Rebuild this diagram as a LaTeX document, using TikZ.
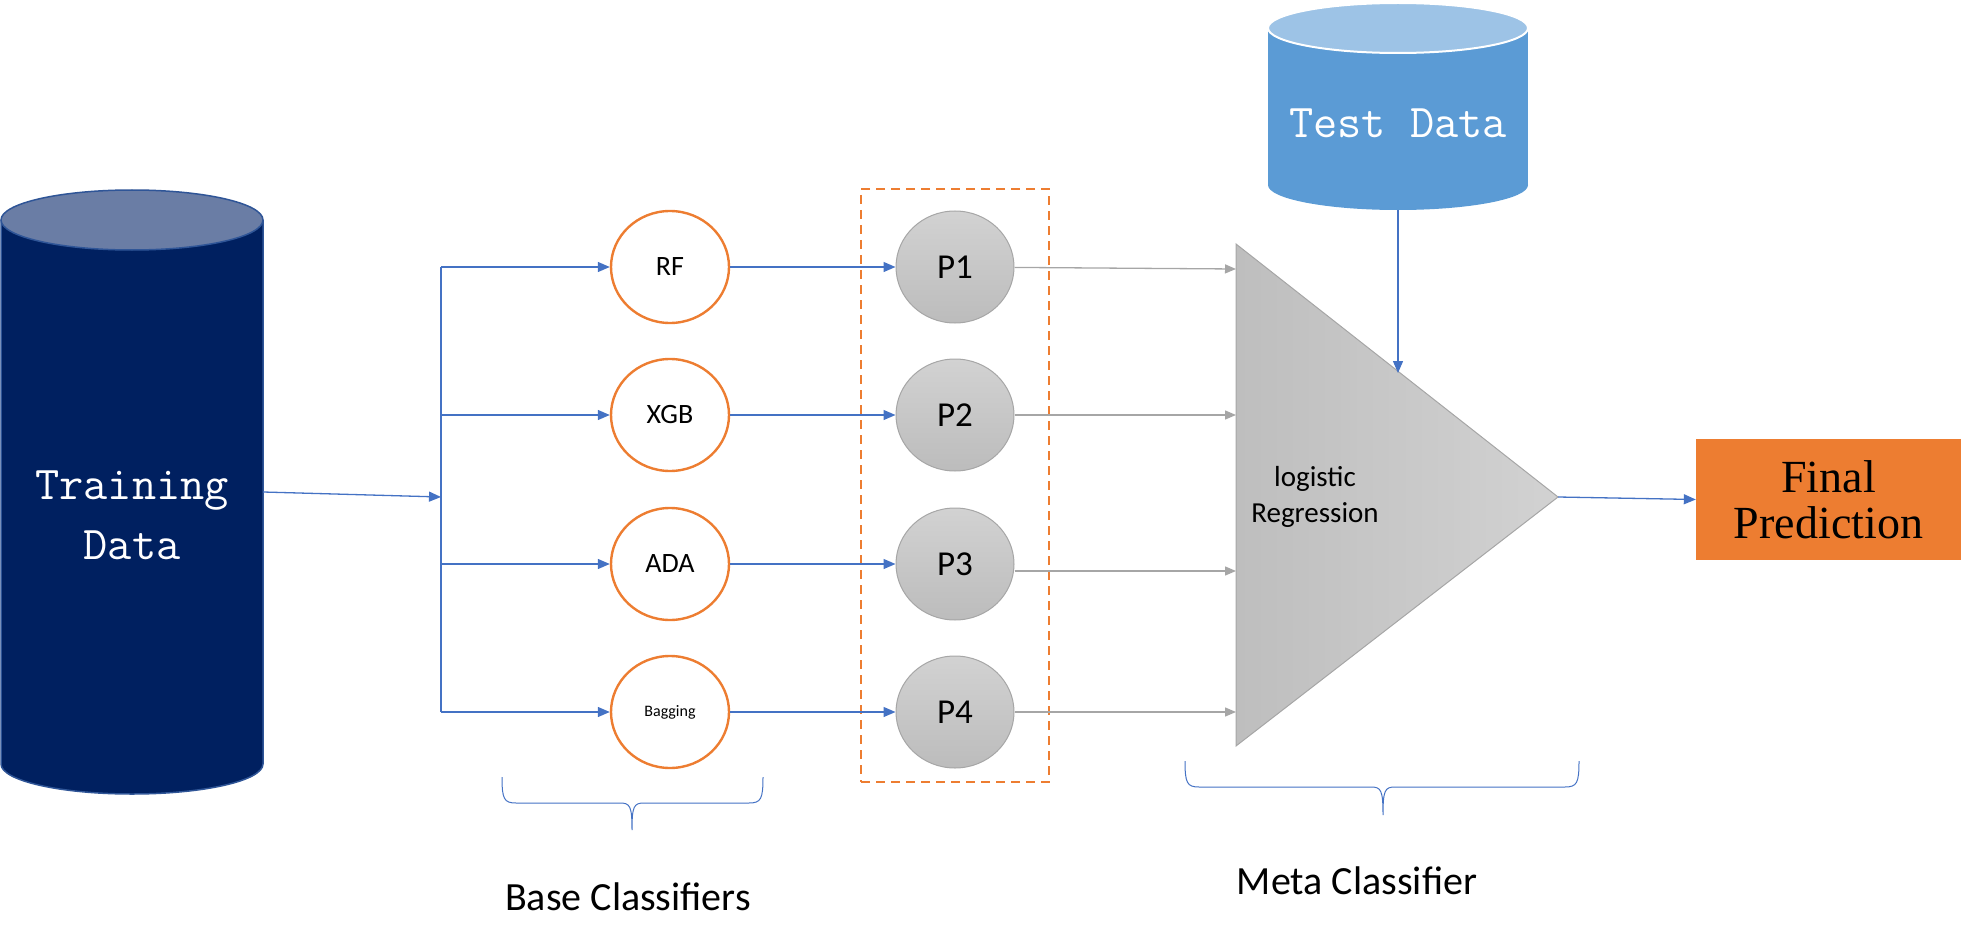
\documentclass[tikz,border=0pt]{standalone}
\usepackage{fontspec}
\setmainfont{Carlito}
\newfontfamily\finalfont{Liberation Serif}
\usetikzlibrary{arrows.meta,shapes.geometric}
\definecolor{navy}{HTML}{002060}
\definecolor{navytop}{HTML}{6A7DA5}
\definecolor{navyline}{HTML}{2F5597}
\definecolor{testblue}{HTML}{5B9BD5}
\definecolor{testtop}{HTML}{9DC3E6}
\definecolor{lineblue}{HTML}{4472C4}
\definecolor{orng}{HTML}{ED7D31}
\definecolor{linegray}{HTML}{A6A6A6}
\definecolor{pTop}{HTML}{D2D2D2}
\definecolor{pBot}{HTML}{BCBCBC}
\definecolor{pgray}{HTML}{A6A6A6}
\definecolor{triL}{HTML}{BEBEBE}
\definecolor{triR}{HTML}{D2D2D2}
\begin{document}
\begin{tikzpicture}[x=1pt,y=-1pt,
  blu/.style={draw=lineblue, line width=1.3pt},
  barrow/.style={blu, -{Triangle[length=12pt,width=10pt]}},
  garrow/.style={draw=linegray, line width=1.3pt, -{Triangle[length=11pt,width=9pt]}},
  clf/.style={ellipse, draw=orng, line width=2.4pt, fill=white, minimum width=118pt, minimum height=112pt, inner sep=0pt, font=\fontsize{28}{30}\selectfont},
  pnode/.style={ellipse, draw=pgray, line width=1pt, top color=pTop, bottom color=pBot, minimum width=118pt, minimum height=112pt, inner sep=0pt, font=\fontsize{35}{40}\selectfont},
  brace/.style={draw=lineblue, line width=1pt},
  lbl/.style={anchor=base, font=\fontsize{40}{40}\selectfont}
]
\useasboundingbox (0,0) rectangle (1965,952);

% Training data cylinder
\fill[navy] (1,220) rectangle (263,764);
\fill[navy] (132,764) ellipse[x radius=131pt, y radius=30pt];
\draw[navyline, line width=1.5pt] (1,220) -- (1,764) arc[start angle=180, end angle=360, x radius=131pt, y radius=30pt] -- (263,220);
\filldraw[fill=navytop, draw=navyline, line width=1.5pt] (132,220) ellipse[x radius=131pt, y radius=30pt];
\node[minimum width=262pt, minimum height=604pt, inner sep=0pt] (train) at (132,492) {};
\node[text=white, font=\ttfamily\fontsize{47}{60}\selectfont, align=center] (traintxt) at (132,515) {Training\\Data};

% Test data cylinder
\fill[testblue] (1268,28) rectangle (1528,185);
\fill[testblue] (1398,185) ellipse[x radius=130pt, y radius=25pt];
\filldraw[fill=testtop, draw=white, line width=2pt] (1398,28) ellipse[x radius=130pt, y radius=25pt];
\node[minimum width=260pt, minimum height=207pt, inner sep=0pt] (test) at (1398,106.5) {};
\node[text=white, font=\ttfamily\fontsize{47}{60}\selectfont] (testtxt) at (1398,123) {Test Data};

% bus
\coordinate (busin) at (441,497);
\coordinate (bust) at (441,267);
\coordinate (busb) at (441,712);
\draw[barrow] (train.east) -- (busin);
\draw[blu] (bust) -- (busb);

% base classifiers
\node[clf] (rf) at (670,267) {RF};
\node[clf] (xgb) at (670,415) {XGB};
\node[clf] (ada) at (670,564) {ADA};
\node[clf, font=\fontsize{16}{18}\selectfont] (bag) at (670,712) {Bagging};

\draw[barrow] (bust) -- (rf);
\draw[barrow] (bust |- xgb) -- (xgb);
\draw[barrow] (bust |- ada) -- (ada);
\draw[barrow] (busb) -- (bag);

% predictions box
\node[draw=orng, dash pattern=on 9pt off 6pt, line width=2.4pt, minimum width=188pt, minimum height=593pt, inner sep=0pt] (pbox) at (955,485.5) {};

\node[pnode] (p1) at (955,267) {P1};
\node[pnode] (p2) at (955,415) {P2};
\node[pnode] (p3) at (955,564) {P3};
\node[pnode] (p4) at (955,712) {P4};

\draw[barrow] (rf) -- (p1);
\draw[barrow] (xgb) -- (p2);
\draw[barrow] (ada) -- (p3);
\draw[barrow] (bag) -- (p4);

% meta classifier triangle
\coordinate (tl) at (1236,244);
\coordinate (tb) at (1236,746);
\coordinate (apex) at (1558,497);
\path[draw=linegray, line width=1pt, left color=triL, right color=triR] (tl) -- (apex) -- (tb) -- cycle;
\node[font=\fontsize{29}{36}\selectfont, align=center] (lr) at (1315,497) {logistic\\Regression};

\coordinate (m1) at (1236,269);
\coordinate (m2) at (1236,415);
\coordinate (m3) at (1236,571);
\coordinate (m4) at (1236,712);
\coordinate (m0) at (1398,373);

\draw[garrow] (p1) -- (m1);
\draw[garrow] (p2) -- (m2);
\draw[garrow] ([yshift=-7pt]p3.east) -- (m3);
\draw[garrow] (p4) -- (m4);

\draw[barrow] (test.south) -- (m0);

% final prediction
\node[fill=orng, minimum width=265pt, minimum height=121pt, inner sep=0pt, font=\finalfont\fontsize{46}{46}\selectfont, align=center] (final) at (1828.5,499.5) {Final\\Prediction};
\draw[barrow] (apex) -- (final.west);

% braces
\draw[brace] (502,777) .. controls (502,799) and (504,803) .. (516,803) -- (620,803) .. controls (630,803) and (632,806) .. (632,830) .. controls (632,806) and (634,803) .. (644,803) -- (749,803) .. controls (761,803) and (763,799) .. (763,777);
\draw[brace] (1185,761) .. controls (1185,783) and (1187,787) .. (1199,787) -- (1371,787) .. controls (1381,787) and (1383,790) .. (1383,815) .. controls (1383,790) and (1385,787) .. (1395,787) -- (1565,787) .. controls (1577,787) and (1579,783) .. (1579,761);

\node[lbl] (basel) at (628,910) {Base Classifiers};
\node[lbl] (metal) at (1357,894) {Meta Classifier};
\end{tikzpicture}
\end{document}
